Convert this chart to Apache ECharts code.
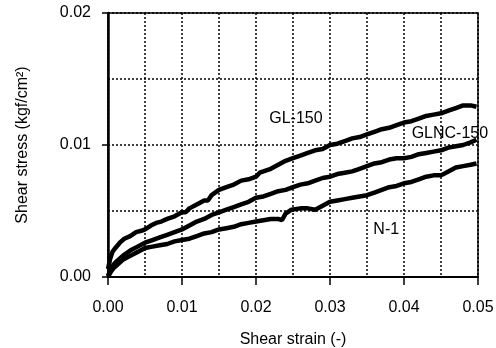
<!DOCTYPE html>
<html><head><meta charset="utf-8">
<script src="https://cdn.jsdelivr.net/npm/echarts@6/dist/echarts.min.js"></script>
<style>html,body{margin:0;padding:0;background:#fff}#c{width:496px;height:348px}</style>
</head><body><div id="c"></div>
<script>
const xTicks = [0, 0.01, 0.02, 0.03, 0.04, 0.05];
const yTicks = [0, 0.01, 0.02];
const seriesNames = ['GL-150', 'GLNC-150', 'N-1'];
const gl150 = [
[0.0000,0.0006],[0.0003,0.0014],[0.0006,0.0019],[0.0010,0.0022],[0.0016,0.0026],[0.0022,0.0029],
[0.0030,0.0031],[0.0038,0.0034],[0.0045,0.0035],[0.0050,0.0036],[0.0058,0.0039],[0.0065,0.0041],
[0.0072,0.0042],[0.0080,0.0044],[0.0090,0.0046],[0.0100,0.0049],[0.0105,0.0049],[0.0110,0.0052],
[0.0120,0.0055],[0.0130,0.0058],[0.0135,0.0058],[0.0140,0.0062],[0.0150,0.0066],[0.0160,0.0068],
[0.0170,0.0070],[0.0180,0.0073],[0.0190,0.0074],[0.0200,0.0076],[0.0205,0.0079],[0.0210,0.0080],
[0.0220,0.0082],[0.0230,0.0085],[0.0240,0.0088],[0.0250,0.0090],[0.0260,0.0092],[0.0270,0.0094],
[0.0280,0.0096],[0.0290,0.0097],[0.0300,0.0100],[0.0310,0.0101],[0.0320,0.0103],[0.0330,0.0105],
[0.0340,0.0106],[0.0350,0.0108],[0.0360,0.0110],[0.0370,0.0112],[0.0380,0.0113],[0.0390,0.0115],
[0.0400,0.0117],[0.0410,0.0118],[0.0420,0.0120],[0.0430,0.0122],[0.0440,0.0123],[0.0450,0.0124],
[0.0460,0.0126],[0.0470,0.0128],[0.0480,0.0130],[0.0490,0.0130],[0.0498,0.0129]
];
const glnc150 = [
[0.0000,0.0001],[0.0004,0.0006],[0.0007,0.0009],[0.0012,0.0012],[0.0020,0.0016],[0.0030,0.0020],
[0.0040,0.0023],[0.0050,0.0026],[0.0060,0.0028],[0.0070,0.0030],[0.0080,0.0032],[0.0090,0.0034],
[0.0100,0.0036],[0.0110,0.0039],[0.0120,0.0042],[0.0130,0.0044],[0.0140,0.0047],[0.0150,0.0049],
[0.0160,0.0051],[0.0170,0.0053],[0.0180,0.0055],[0.0190,0.0057],[0.0200,0.0060],[0.0210,0.0061],
[0.0220,0.0063],[0.0230,0.0065],[0.0240,0.0066],[0.0250,0.0068],[0.0260,0.0070],[0.0270,0.0071],
[0.0280,0.0073],[0.0290,0.0075],[0.0300,0.0076],[0.0310,0.0078],[0.0320,0.0079],[0.0330,0.0080],
[0.0340,0.0082],[0.0350,0.0084],[0.0360,0.0086],[0.0370,0.0087],[0.0380,0.0089],[0.0390,0.0090],
[0.0400,0.0090],[0.0410,0.0091],[0.0420,0.0093],[0.0430,0.0094],[0.0440,0.0095],[0.0450,0.0096],
[0.0460,0.0098],[0.0470,0.0099],[0.0480,0.0100],[0.0490,0.0102],[0.0498,0.0104]
];
const n1 = [
[0.0000,0.0000],[0.0004,0.0004],[0.0008,0.0007],[0.0014,0.0010],[0.0020,0.0013],[0.0030,0.0016],
[0.0040,0.0019],[0.0050,0.0022],[0.0060,0.0023],[0.0070,0.0024],[0.0080,0.0025],[0.0090,0.0027],
[0.0100,0.0028],[0.0110,0.0029],[0.0120,0.0031],[0.0130,0.0033],[0.0140,0.0034],[0.0150,0.0036],
[0.0160,0.0037],[0.0170,0.0038],[0.0180,0.0040],[0.0190,0.0041],[0.0200,0.0042],[0.0210,0.0043],
[0.0220,0.0044],[0.0230,0.0044],[0.0235,0.0043],[0.0240,0.0048],[0.0248,0.0051],[0.0260,0.0052],
[0.0270,0.0052],[0.0280,0.0051],[0.0290,0.0054],[0.0300,0.0057],[0.0310,0.0058],[0.0320,0.0059],
[0.0330,0.0060],[0.0340,0.0061],[0.0350,0.0062],[0.0360,0.0064],[0.0370,0.0066],[0.0380,0.0068],
[0.0390,0.0069],[0.0400,0.0071],[0.0410,0.0072],[0.0420,0.0074],[0.0430,0.0076],[0.0440,0.0077],
[0.0450,0.0077],[0.0460,0.0080],[0.0470,0.0083],[0.0480,0.0084],[0.0490,0.0085],[0.0498,0.0086]
];
const labelPos = [[0.0254,0.0120],[0.0462,0.0109],[0.0376,0.00356]];

const FONT = 'Liberation Sans, Arial, sans-serif';
const dotted = {color:'#000', width:1.5, type:[2,2]};
const chart = echarts.init(document.getElementById('c'), null, {renderer:'canvas'});
const lineSeries = [gl150, glnc150, n1].map((d,i)=>({
  name: seriesNames[i], type:'line', data:d, showSymbol:false, symbol:'none',
  lineStyle:{color:'#000', width:4.5}, animation:false, z:5
}));
chart.setOption({
  animation:false,
  backgroundColor:'#fff',
  grid:{left:108, right:18, top:13, bottom:71, show:true, borderColor:'#000', borderWidth:1.5,
        backgroundColor:'transparent', containLabel:false, outerBoundsMode:'none'},
  xAxis:{type:'value', min:xTicks[0], max:xTicks[xTicks.length-1], interval:0.01,
    name:'Shear strain (-)', nameLocation:'middle', nameGap:55,
    nameTextStyle:{fontFamily:FONT, fontSize:16, color:'#000'},
    axisLine:{show:true, lineStyle:{color:'#000', width:2}},
    axisTick:{show:true, inside:false, length:8, lineStyle:{color:'#000', width:1.5}},
    axisLabel:{fontFamily:FONT, fontSize:16, color:'#000', margin:23, formatter:v=>v.toFixed(2)},
    splitLine:{show:true, lineStyle:dotted},
    minorTick:{show:false, splitNumber:2},
    minorSplitLine:{show:true, lineStyle:dotted}
  },
  yAxis:{type:'value', min:yTicks[0], max:yTicks[yTicks.length-1], interval:0.01,
    name:'Shear stress (kgf/cm²)', nameLocation:'middle', nameGap:77, nameRotate:90,
    nameTextStyle:{fontFamily:FONT, fontSize:16, color:'#000'},
    axisLine:{show:true, lineStyle:{color:'#000', width:2.5}},
    axisTick:{show:true, inside:false, length:6, lineStyle:{color:'#000', width:1.5}},
    axisLabel:{fontFamily:FONT, fontSize:16, color:'#000', margin:17, formatter:v=>v.toFixed(2)},
    splitLine:{show:true, lineStyle:dotted},
    minorTick:{show:false, splitNumber:2},
    minorSplitLine:{show:true, lineStyle:dotted}
  },
  series: lineSeries.concat([{
    type:'scatter', symbolSize:0, silent:true, z:6,
    itemStyle:{opacity:1},
    data: labelPos.map((p,i)=>({value:p, name:seriesNames[i]})),
    label:{show:true, position:'inside', formatter:p=>p.name, fontFamily:FONT, fontSize:16, color:'#000', opacity:1}
  }])
});
</script></body></html>
